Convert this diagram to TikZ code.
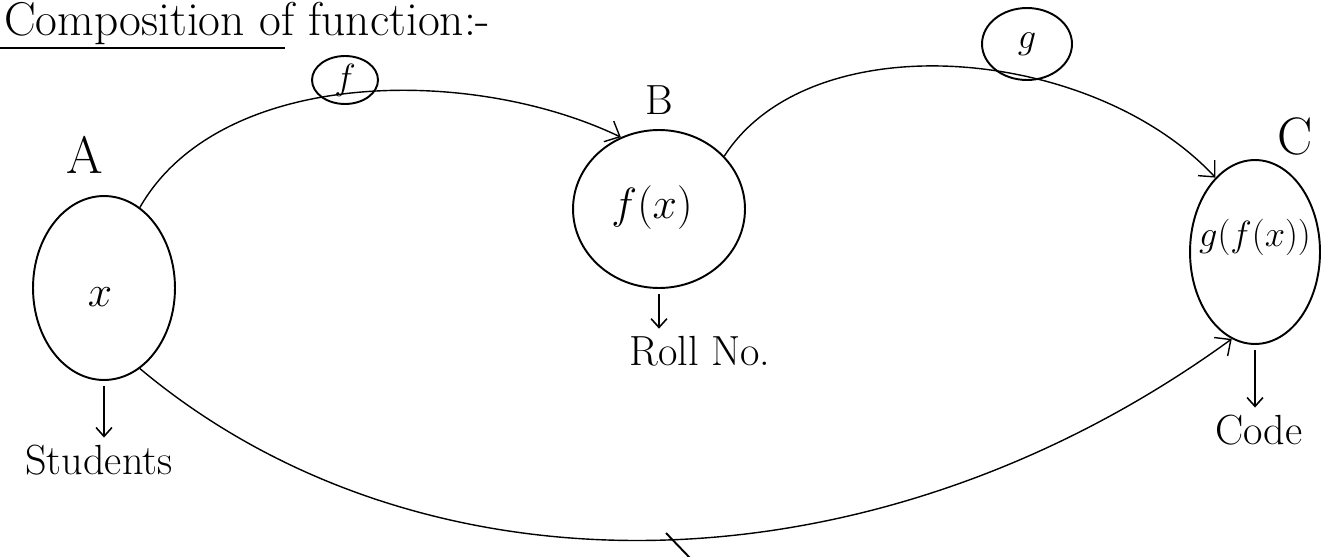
\documentclass[tikz,border=0pt]{standalone}
\usepackage{tikz}
\usetikzlibrary{arrows.meta,positioning,shapes.geometric}

\begin{document}
\begin{tikzpicture}[x=0.02cm,y=-0.02cm,
set/.style={ellipse,draw,line width=1.1pt,inner sep=0pt},
lbl/.style={inner sep=1pt,font=\fontsize{24}{28}\selectfont},
big/.style={inner sep=1pt,font=\fontsize{30}{34}\selectfont},
map/.style={line width=0.8pt,-{Straight Barb[length=7pt,width=13pt]}},
down/.style={line width=0.9pt,shorten <=3pt,shorten >=3pt,-{Straight Barb[length=5pt,width=9pt]}}]
\clip (0,0) rectangle (1324,557);
\node[lbl,anchor=base west,font=\fontsize{27}{30}\selectfont] (T) at (2,36) {Composition of function:-};
\draw[line width=0.9pt] (0,48) -- (285,48);
\node[set,minimum width=2.84cm,minimum height=3.68cm] (A) at (104,288) {};
\node[set,minimum width=3.44cm,minimum height=3.16cm] (B) at (659,209) {};
\node[set,minimum width=2.6cm,minimum height=3.68cm] (C) at (1255,252) {};
\node[set,minimum width=1.32cm,minimum height=0.96cm,font=\fontsize{20}{24}\selectfont] (F) at (345,80) {$f$};
\node[set,minimum width=1.8cm,minimum height=1.44cm,font=\fontsize{22}{26}\selectfont] (G) at (1027,44) {$g$};
\node[big] (xa) at (100,297) {$x$};
\node[big] (xb) at (652,208) {$f(x)$};
\node[lbl,font=\fontsize{22}{26}\selectfont] (xc) at (1255,237) {$g(f(x))$};
\node[big] (LA) at (85,155) {A};
\node[lbl] (LB) at (659,100) {B};
\node[big] (LC) at (1295,137) {C};
\node[lbl] (SA) at (99,460) {Students};
\node[lbl] (SB) at (700,351) {Roll No.};
\node[lbl] (SC) at (1259,430) {Code};
\draw[map] (A.66) .. controls +(80,-140) and +(-150,-72) .. (B.118);
\draw[map] (B.39) .. controls +(87,-135) and +(-123,-132) .. (C.118);
\draw[map] (A.-66) .. controls +(283,237) and +(-358,260) .. (C.-105);
\draw[down] (A.south) -- (A.south |- SA.north);
\draw[down] (B.south) -- (B.south |- SB.north);
\draw[down] (C.south) -- (C.south |- SC.north);
\draw[line width=1.1pt] (666,533) -- (690,558);
\end{tikzpicture}
\end{document}
